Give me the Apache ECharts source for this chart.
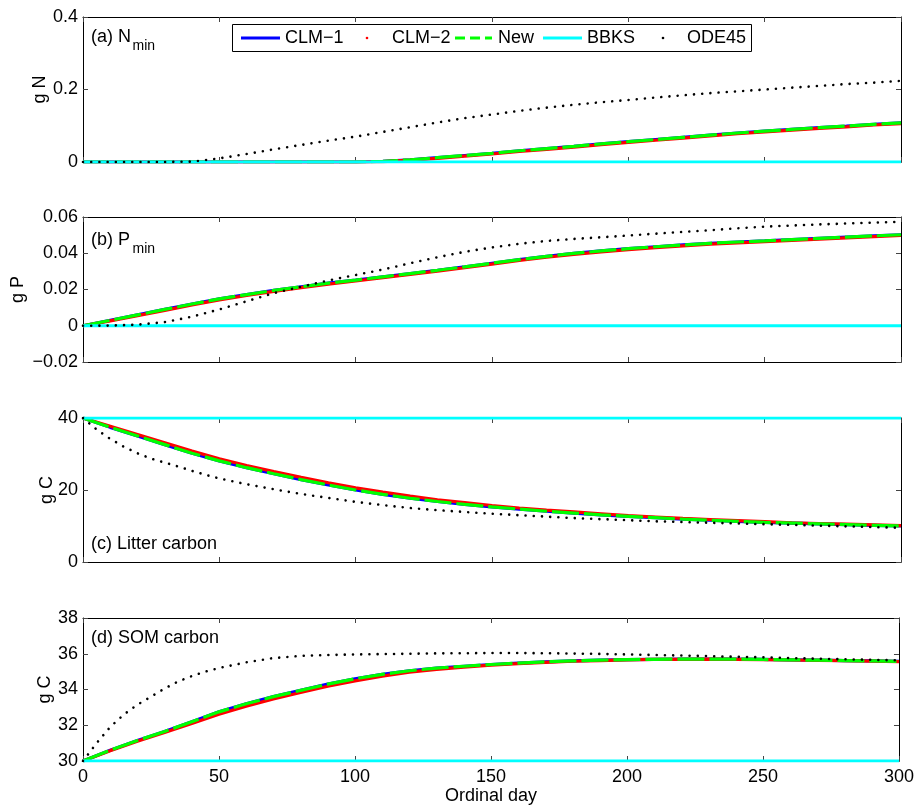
<!DOCTYPE html>
<html>
<head>
<meta charset="utf-8">
<script src="https://cdn.jsdelivr.net/npm/echarts@6/dist/echarts.min.js"></script>
<style>
html,body{margin:0;padding:0;background:#fff;}
#chart{width:917px;height:806px;}
</style>
</head>
<body>
<div id="chart"></div>
<script>
// ---- data ----
const days = [0,10,20,30,40,50,60,70,80,90,100,110,120,130,140,150,160,170,180,190,200,210,220,230,240,250,260,270,280,290,300];
const odeDays = [0,5,10,15,20,25,30,35,40,45,50,60,70,80,90,100,110,120,130,140,150,160,170,180,190,200,210,220,230,240,250,260,270,280,290,300];
const bbksDays = [0,300];
const xTicks = [0,50,100,150,200,250,300];

// (a) N min
const clm1A = [0,0,0,0,0,0,0,0,0,0,0,0.002,0.006,0.012,0.018,0.024,0.031,0.037,0.043,0.050,0.056,0.062,0.068,0.074,0.080,0.085,0.090,0.095,0.099,0.104,0.108];
const clm2A = [0,0,0,0,0,0,0,0,0,0,0,0.001,0.005,0.010,0.016,0.022,0.029,0.035,0.041,0.048,0.054,0.060,0.066,0.072,0.078,0.083,0.088,0.093,0.097,0.102,0.106];
const newA  = [0,0,0,0,0,0,0,0,0,0,0,0.002,0.006,0.012,0.018,0.024,0.031,0.037,0.043,0.050,0.056,0.062,0.068,0.074,0.080,0.085,0.090,0.095,0.099,0.104,0.108];
const bbksA = [0,0];
const odeA  = [0,0,0,0,0.001,0.010,0.022,0.035,0.047,0.059,0.070,0.083,0.096,0.109,0.121,0.131,0.141,0.150,0.158,0.165,0.171,0.178,0.184,0.190,0.195,0.200,0.205,0.210,0.215,0.219,0.224];

// (b) P min
const clm1B = [0,0.003,0.006,0.009,0.012,0.0148,0.0172,0.0195,0.0215,0.0235,0.0252,0.0270,0.0288,0.0306,0.0325,0.0345,0.0365,0.0383,0.0399,0.0413,0.0425,0.0436,0.0446,0.0455,0.0462,0.0468,0.0475,0.0482,0.0489,0.0496,0.0502];
const clm2B = [0,0.0027,0.0056,0.0085,0.0115,0.0143,0.0167,0.0190,0.0210,0.0230,0.0247,0.0265,0.0283,0.0301,0.0320,0.0340,0.0360,0.0378,0.0394,0.0408,0.0420,0.0431,0.0441,0.0450,0.0457,0.0464,0.0471,0.0478,0.0485,0.0492,0.0498];
const newB  = [0,0.003,0.006,0.009,0.012,0.0148,0.0172,0.0195,0.0215,0.0235,0.0252,0.0270,0.0288,0.0306,0.0325,0.0345,0.0365,0.0383,0.0399,0.0413,0.0425,0.0436,0.0446,0.0455,0.0462,0.0468,0.0475,0.0482,0.0489,0.0496,0.0502];
const bbksB = [0,0];
const odeB  = [0,0.0001,0.0006,0.002,0.005,0.009,0.0135,0.018,0.0215,0.025,0.028,0.031,0.0345,0.0378,0.0408,0.0432,0.0452,0.0468,0.0479,0.0488,0.0498,0.0508,0.0518,0.0527,0.0538,0.0547,0.0553,0.0559,0.0564,0.0569,0.0574];

// (c) Litter carbon
const clm1C = [40,37.4,35.0,32.6,30.2,28.1,26.2,24.5,22.9,21.4,20.0,18.8,17.7,16.8,16.0,15.3,14.7,14.1,13.6,13.1,12.7,12.3,11.9,11.6,11.3,11.0,10.8,10.6,10.4,10.2,10.0];
const clm2C = [40,37.7,35.4,33.1,30.8,28.7,26.8,25.1,23.5,22.0,20.6,19.4,18.3,17.3,16.5,15.7,15.0,14.4,13.9,13.4,12.9,12.5,12.1,11.8,11.5,11.2,10.9,10.7,10.5,10.3,10.1];
const newC  = [40,37.4,35.0,32.6,30.2,28.1,26.2,24.5,22.9,21.4,20.0,18.8,17.7,16.8,16.0,15.3,14.7,14.1,13.6,13.1,12.7,12.3,11.9,11.6,11.3,11.0,10.8,10.6,10.4,10.2,10.0];
const bbksC = [40,40];
const odeC  = [40,36.8,34.2,32.0,30.2,28.7,27.6,26.5,25.3,24.2,23.2,21.6,20.2,18.9,17.8,16.7,15.8,15.0,14.4,13.9,13.4,13.0,12.6,12.2,11.9,11.6,11.3,11.1,10.9,10.7,10.5,10.3,10.1,9.9,9.7,9.5];

// (d) SOM carbon
const clm1D = [30,30.6,31.15,31.65,32.2,32.75,33.2,33.6,33.95,34.3,34.6,34.85,35.05,35.2,35.3,35.4,35.48,35.55,35.6,35.64,35.67,35.69,35.7,35.7,35.7,35.68,35.66,35.64,35.62,35.6,35.57];
const clm2D = [30,30.58,31.1,31.6,32.1,32.62,33.07,33.47,33.83,34.18,34.48,34.75,34.97,35.13,35.25,35.36,35.45,35.52,35.58,35.62,35.66,35.68,35.69,35.7,35.69,35.67,35.65,35.63,35.61,35.59,35.56];
const newD  = [30,30.6,31.15,31.65,32.2,32.75,33.2,33.6,33.95,34.3,34.6,34.85,35.05,35.2,35.3,35.4,35.48,35.55,35.6,35.64,35.67,35.69,35.7,35.7,35.7,35.68,35.66,35.64,35.62,35.6,35.57];
const bbksD = [30,30];
const odeD  = [30,31.0,31.9,32.6,33.15,33.6,34.05,34.45,34.75,35.0,35.2,35.52,35.76,35.88,35.93,35.96,35.98,36.0,36.02,36.03,36.04,36.04,36.03,36.01,35.99,35.96,35.93,35.9,35.87,35.83,35.8,35.76,35.72,35.69,35.66,35.63];

const seriesNames = ['CLM\u22121','CLM\u22122','New','BBKS','ODE45'];
const panelTitles = [['(a) N','min'],['(b) P','min'],['(c) Litter carbon',''],['(d) SOM carbon','']];
const yNames = ['g N','g P','g C','g C'];
const yRanges = [[0,0.4,0.2],[-0.02,0.06,0.02],[0,40,20],[30,38,2]];

// ---- layout ----
const FONT = '"Liberation Sans", Arial, Helvetica, sans-serif';
const gridTops = [17,217,418,618];
const gridH = [145,145,144,144];
const yNameGaps = [34,56,27,29];

const panels = [
  {clm1: clm1A, clm2: clm2A, nw: newA, bbks: bbksA, ode: odeA, odeX: days},
  {clm1: clm1B, clm2: clm2B, nw: newB, bbks: bbksB, ode: odeB, odeX: days},
  {clm1: clm1C, clm2: clm2C, nw: newC, bbks: bbksC, ode: odeC, odeX: odeDays},
  {clm1: clm1D, clm2: clm2D, nw: newD, bbks: bbksD, ode: odeD, odeX: odeDays}
];

const zip = (xs, ys) => xs.map((x, i) => [x, ys[i]]);
const minus = v => String(v).replace('-', '\u2212');

const grid = [], xAxis = [], yAxis = [], series = [];
const axLine = {show: true, onZero: false, lineStyle: {color: '#000', width: 1}};
const axTick = {show: true, inside: true, length: 5, lineStyle: {color: '#444', width: 1}};

panels.forEach((p, i) => {
  grid.push({left: 83, right: 16, top: gridTops[i], height: gridH[i], containLabel: false});
  const last = i === 3;
  xAxis.push({
    type: 'value', gridIndex: i, min: 0, max: 300, interval: 50, position: 'bottom',
    axisLine: axLine, axisTick: axTick, splitLine: {show: false},
    axisLabel: {show: last, margin: 7, color: '#000', fontSize: 18, fontFamily: FONT},
    name: last ? 'Ordinal day' : '', nameLocation: 'middle', nameGap: 26, nameMoveOverlap: false,
    nameTextStyle: {color: '#000', fontSize: 18, fontFamily: FONT}
  });
  xAxis.push({
    type: 'value', gridIndex: i, min: 0, max: 300, interval: 50, position: 'top',
    axisLine: axLine, axisTick: axTick, splitLine: {show: false}, axisLabel: {show: false}
  });
  const r = yRanges[i];
  yAxis.push({
    type: 'value', gridIndex: i, min: r[0], max: r[1], interval: r[2], position: 'left',
    axisLine: axLine, axisTick: axTick, splitLine: {show: false},
    axisLabel: {margin: 5, color: '#000', fontSize: 18, fontFamily: FONT, formatter: minus},
    name: yNames[i], nameLocation: 'middle', nameGap: yNameGaps[i], nameMoveOverlap: false,
    nameTextStyle: {color: '#000', fontSize: 18, fontFamily: FONT}
  });
  yAxis.push({
    type: 'value', gridIndex: i, min: r[0], max: r[1], interval: r[2], position: 'right',
    axisLine: axLine, axisTick: axTick, splitLine: {show: false}, axisLabel: {show: false}
  });
  const xi = i * 2, yi = i * 2;
  const base = {type: 'line', xAxisIndex: xi, yAxisIndex: yi, symbol: 'none', animation: false, silent: true};
  series.push(Object.assign({}, base, {name: seriesNames[0], data: zip(days, p.clm1),
    lineStyle: {color: '#0000ff', width: 3.2}}));
  series.push(Object.assign({}, base, {name: seriesNames[1], data: zip(days, p.clm2),
    lineStyle: {color: '#ff0000', width: 3.2}}));
  series.push(Object.assign({}, base, {name: seriesNames[2], data: zip(days, p.nw),
    lineStyle: {color: '#00ff00', width: 3.2, type: [27, 5]}}));
  series.push(Object.assign({}, base, {name: seriesNames[3], data: zip(bbksDays, p.bbks),
    lineStyle: {color: '#00ffff', width: 3.2}}));
  series.push(Object.assign({}, base, {name: seriesNames[4], data: zip(p.odeX, p.ode),
    lineStyle: {color: '#000000', width: 2.6, type: [0.01, 8.2], cap: 'round'}}));
});

// ---- panel labels and legend (graphic) ----
const graphic = [];
const txt = (x, y, text, size, align) => ({
  type: 'text', x: x, y: y, silent: true, z: 100,
  style: {text: text, fill: '#000', font: size + 'px ' + FONT, align: align || 'left', verticalAlign: 'middle',
          textAlign: align || 'left', textVerticalAlign: 'middle'}
});
const labelY = [37, 240, 544, 638];
panelTitles.forEach((t, i) => {
  graphic.push(txt(91, labelY[i], t[0], 18));
  if (t[1]) graphic.push(txt(132.5, labelY[i] + 9, t[1], 14));
});

// legend box
const ly = 38;
graphic.push({type: 'rect', z: 99, silent: true, shape: {x: 232.5, y: 24.5, width: 519, height: 27},
  style: {fill: '#fff', stroke: '#000', lineWidth: 1}});
graphic.push({type: 'line', z: 100, silent: true, shape: {x1: 241, y1: ly, x2: 280, y2: ly}, style: {stroke: '#0000ff', lineWidth: 3}});
graphic.push(txt(285, ly, seriesNames[0], 18));
graphic.push({type: 'circle', z: 100, silent: true, shape: {cx: 367, cy: ly, r: 1.3}, style: {fill: '#ff0000'}});
graphic.push(txt(392, ly, seriesNames[1], 18));
graphic.push({type: 'line', z: 100, silent: true, shape: {x1: 455, y1: ly, x2: 492, y2: ly}, style: {stroke: '#00ff00', lineWidth: 3, lineDash: [10, 5]}});
graphic.push(txt(498, ly, seriesNames[2], 18));
graphic.push({type: 'line', z: 100, silent: true, shape: {x1: 543, y1: ly, x2: 582, y2: ly}, style: {stroke: '#00ffff', lineWidth: 3}});
graphic.push(txt(587, ly, seriesNames[3], 18));
graphic.push({type: 'circle', z: 100, silent: true, shape: {cx: 663, cy: ly, r: 1.3}, style: {fill: '#000'}});
graphic.push(txt(687, ly, seriesNames[4], 18));

const chart = echarts.init(document.getElementById('chart'), null, {renderer: 'canvas'});
chart.setOption({
  animation: false,
  backgroundColor: '#fff',
  grid: grid,
  xAxis: xAxis,
  yAxis: yAxis,
  series: series,
  graphic: graphic
});
</script>
</body>
</html>
